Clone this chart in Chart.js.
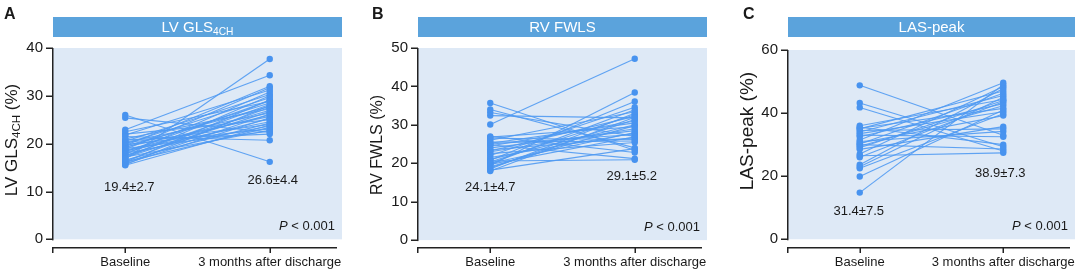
<!DOCTYPE html>
<html>
<head>
<meta charset="utf-8">
<script src="https://cdn.jsdelivr.net/npm/chart.js@4.4.3/dist/chart.umd.min.js"></script>
<style>
  html, body { margin: 0; padding: 0; background: #fff; }
  body { width: 1084px; height: 274px; position: relative; overflow: hidden; }
  .panel { position: absolute; top: 0; }
</style>
</head>
<body>
<div class="panel" style="left:0"><canvas id="chartA" width="360" height="274"></canvas></div>
<div class="panel" style="left:365px"><canvas id="chartB" width="350" height="274"></canvas></div>
<div class="panel" style="left:735px"><canvas id="chartC" width="349" height="274"></canvas></div>
<script>
(function () {
  'use strict';

  var FONT = '"Liberation Sans", Arial, Helvetica, sans-serif';

  // x categories (placed at 1 and 3 on a 0..4 axis)
  var xLabels = ['Baseline', '3 months after discharge'];
  var xPositions = [1, 3];

  // A: LV GLS 4CH, one entry per patient
  var baselineA = [26.0, 25.4, 22.9, 16.8, 21.5, 22.5, 22.0, 21.8, 21.0, 20.8, 20.5, 20.3, 20.2, 20.0, 19.8, 19.6, 19.5, 19.3, 19.2, 19.0,
                   18.8, 18.6, 18.5, 18.3, 18.1, 18.0, 17.8, 17.6, 17.4, 17.2, 17.1, 17.0, 16.6, 16.4, 16.2, 16.1, 16.0, 15.8, 15.6, 15.5];
  var followA   = [16.2, 22.4, 34.3, 37.7, 20.7, 28.8, 25.0, 31.2, 27.3, 22.0, 30.3, 26.4, 24.0, 29.6, 23.1, 32.0, 27.8, 25.7, 28.5, 22.6,
                   31.7, 26.0, 24.6, 29.0, 27.0, 23.7, 30.8, 25.2, 28.2, 22.8, 26.7, 30.0, 24.3, 27.6, 23.4, 29.2, 26.2, 25.4, 28.0, 23.9];
  var yTicksA = [0, 10, 20, 30, 40];
  var statsA = ['19.4\u00b12.7', '26.6\u00b14.4'];

  // B: RV FWLS
  var baselineB = [35.7, 34.0, 33.2, 32.4, 30.1, 27.0, 26.8, 26.5, 26.0, 25.5, 25.2, 25.0, 24.8, 24.5, 24.0, 23.5, 23.2,
                   23.0, 22.5, 22.0, 21.5, 21.0, 20.8, 20.6, 20.3, 20.0, 19.9, 19.7, 19.4, 19.1, 18.8, 18.5, 18.2, 18.0];
  var followB   = [23.4, 24.0, 27.0, 31.8, 47.2, 22.8, 29.5, 26.2, 33.4, 25.8, 30.5, 27.5, 21.2, 31.0, 28.5, 26.6, 32.2,
                   29.0, 25.4, 34.6, 27.8, 30.0, 36.1, 20.9, 32.6, 28.0, 33.9, 26.9, 38.4, 29.8, 31.4, 33.0, 23.8, 32.0];
  var yTicksB = [0, 10, 20, 30, 40, 50];
  var statsB = ['24.1\u00b14.7', '29.1\u00b15.2'];

  // C: LAS-peak
  var baselineC = [48.8, 43.2, 41.8, 36.0, 35.5, 35.2, 35.0, 34.5, 34.0, 33.5, 33.0, 32.5, 31.5, 31.0,
                   30.5, 30.2, 30.0, 29.5, 29.0, 28.5, 27.0, 26.5, 26.0, 23.6, 23.0, 22.5, 19.9, 14.8];
  var followC   = [33.0, 29.3, 28.0, 44.3, 30.0, 41.5, 47.0, 35.0, 45.6, 40.4, 32.5, 43.0, 49.6, 34.2,
                   39.2, 46.3, 28.6, 42.3, 44.0, 35.7, 48.4, 27.4, 43.6, 47.8, 45.0, 39.8, 41.0, 49.0];
  var yTicksC = [0, 20, 40, 60];
  var statsC = ['31.4\u00b17.5', '38.9\u00b17.3'];

  var pLabel = '< 0.001';

  var LINE = 'rgba(80,154,242,0.9)';
  var DOT = '#4893ef';
  var BAR = '#5ba3dc';
  var BG = '#dee9f6';
  var INK = '#1a1a1a';
  var AXIS = '#222';

  // draw text made of parts [{t, sub, it}] centred (or right-aligned) on (cx, cy)
  function drawRich(ctx, parts, size, cx, cy, align) {
    var total = 0;
    parts.forEach(function (p) {
      var s = p.sub ? size * 0.68 : size;
      ctx.font = (p.it ? 'italic ' : '') + s + 'px ' + FONT;
      total += ctx.measureText(p.t).width;
    });
    var x = align === 'right' ? cx - total : cx - total / 2;
    ctx.textAlign = 'left';
    ctx.textBaseline = 'middle';
    parts.forEach(function (p) {
      var s = p.sub ? size * 0.68 : size;
      ctx.font = (p.it ? 'italic ' : '') + s + 'px ' + FONT;
      ctx.fillText(p.t, x, cy + (p.sub ? size * 0.3 : 0));
      x += ctx.measureText(p.t).width;
    });
  }

  var decor = {
    id: 'decor',
    beforeDraw: function (chart, args, o) {
      var ctx = chart.ctx, a = chart.chartArea, y = chart.scales.y;
      var zero = y.getPixelForValue(0);
      ctx.save();
      ctx.fillStyle = BG;
      ctx.fillRect(a.left, a.top, a.right - a.left, zero - a.top);
      ctx.fillStyle = BAR;
      ctx.fillRect(a.left, 17, a.right - a.left, 20);
      ctx.fillStyle = '#fff';
      drawRich(ctx, o.title, 15, (a.left + a.right) / 2, 27.5);
      ctx.fillStyle = INK;
      ctx.font = 'bold 16px ' + FONT;
      ctx.textAlign = 'left';
      ctx.textBaseline = 'middle';
      ctx.fillText(o.letter, o.letterX, 15);
      ctx.save();
      ctx.translate(o.yTitleX, o.yTitleY);
      ctx.rotate(-Math.PI / 2);
      drawRich(ctx, o.yTitle, o.yTitleSize, 0, 0);
      ctx.restore();
      ctx.restore();
    },
    afterDraw: function (chart, args, o) {
      var ctx = chart.ctx, a = chart.chartArea, y = chart.scales.y, x = chart.scales.x;
      var zero = y.getPixelForValue(0);
      var left = Math.round(a.left), bottom = Math.round(a.bottom);
      ctx.save();
      ctx.fillStyle = AXIS;
      // y axis stops at zero, x axis is offset below it
      ctx.fillRect(left - 1, a.top, 1.5, zero - a.top + 1);
      ctx.fillRect(left - 1, bottom, a.right - 4 - left, 1.5);
      ctx.fillRect(left - 1, bottom, 1.5, 6);
      xPositions.forEach(function (v) {
        ctx.fillRect(Math.round(x.getPixelForValue(v)) - 0.5, bottom, 1.5, 6);
      });
      yTicksFor(chart).forEach(function (v) {
        ctx.fillRect(left - 7, Math.round(y.getPixelForValue(v)) - 0.5, 7, 1.5);
      });
      ctx.fillStyle = INK;
      o.stats.forEach(function (s, i) {
        drawRich(ctx, [{ t: s }], 13, x.getPixelForValue(xPositions[i]) + o.statDx[i], y.getPixelForValue(o.statY[i]));
      });
      drawRich(ctx, [{ t: 'P', it: true }, { t: ' ' + pLabel }], 13, a.right - 7, zero - 13, 'right');
      ctx.restore();
    }
  };

  function yTicksFor(chart) {
    return chart.scales.y.ticks.map(function (t) { return t.value; });
  }

  function pairs(base, follow) {
    return base.map(function (b, i) {
      return {
        data: [{ x: xPositions[0], y: b }, { x: xPositions[1], y: follow[i] }],
        showLine: true,
        borderColor: LINE,
        borderWidth: 1.1,
        pointRadius: 3.2,
        pointBackgroundColor: DOT,
        pointBorderWidth: 0
      };
    });
  }

  function makeChart(id, base, follow, yTicks, yMin, yMax, top, right, panel) {
    return new Chart(document.getElementById(id), {
      type: 'scatter',
      data: { datasets: pairs(base, follow) },
      plugins: [decor],
      options: {
        responsive: false,
        animation: false,
        layout: { padding: { top: top, right: right, left: 0, bottom: 0 } },
        plugins: { legend: { display: false }, tooltip: { enabled: false }, decor: panel },
        scales: {
          x: {
            type: 'linear', min: 0, max: 4,
            afterBuildTicks: function (s) { s.ticks = xPositions.map(function (v) { return { value: v }; }); },
            afterFit: function (s) { s.height = 27; s.paddingLeft = 0; s.paddingRight = 0; },
            ticks: {
              autoSkip: false, maxRotation: 0, padding: 8, color: INK,
              font: { family: FONT, size: 13 },
              callback: function (v) { return xLabels[xPositions.indexOf(v)]; }
            },
            grid: { display: false, drawTicks: false },
            border: { display: false }
          },
          y: {
            min: yMin, max: yMax,
            afterBuildTicks: function (s) { s.ticks = yTicks.map(function (v) { return { value: v }; }); },
            afterFit: function (s) { s.width = 53; },
            ticks: { padding: 10, color: INK, font: { family: FONT, size: 15 } },
            grid: { display: false, drawTicks: false },
            border: { display: false }
          }
        }
      }
    });
  }

  makeChart('chartA', baselineA, followA, yTicksA, -1.6, 40, 48, 18, {
    letter: 'A', letterX: 4,
    title: [{ t: 'LV GLS' }, { t: '4CH', sub: true }],
    yTitle: [{ t: 'LV GLS' }, { t: '4CH', sub: true }, { t: ' (%)' }],
    yTitleX: 12, yTitleY: 140, yTitleSize: 17,
    stats: statsA, statY: [10.8, 12.4], statDx: [4, 3]
  });

  makeChart('chartB', baselineB, followB, yTicksB, -1.8, 50, 48, 8, {
    letter: 'B', letterX: 7,
    title: [{ t: 'RV FWLS' }],
    yTitle: [{ t: 'RV FWLS (%)' }],
    yTitleX: 13, yTitleY: 145, yTitleSize: 16,
    stats: statsB, statY: [13.7, 16.5], statDx: [0, -3]
  });

  makeChart('chartC', baselineC, followC, yTicksC, -2.45, 60, 50, 9, {
    letter: 'C', letterX: 8,
    title: [{ t: 'LAS-peak' }],
    yTitle: [{ t: 'LAS-peak (%)' }],
    yTitleX: 13, yTitleY: 131, yTitleSize: 19,
    stats: statsC, statY: [8.7, 20.9], statDx: [-1, -3]
  });
})();
</script>
</body>
</html>
